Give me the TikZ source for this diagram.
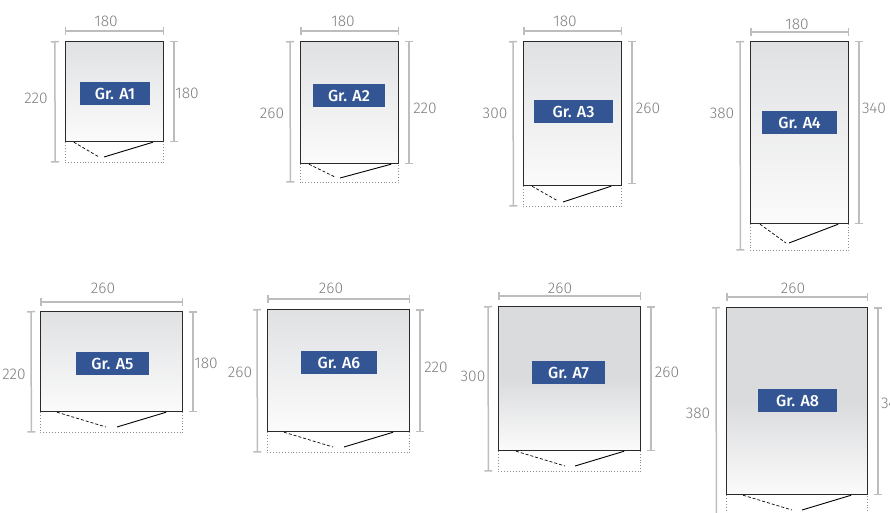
\documentclass[tikz,border=0pt]{standalone}
\usepackage{tikz}
\usetikzlibrary{arrows.meta, positioning}
\usepackage{xcolor}
\usepackage{fontspec}
\setmainfont{Fira Sans}[UprightFont=* Light, BoldFont=* Medium]

\definecolor{roomtop}{HTML}{E0E1E3}
\definecolor{deeptop}{HTML}{DADBDD}
\definecolor{roombot}{HTML}{FBFBFB}
\definecolor{tagblue}{HTML}{345594}
\definecolor{dimgray}{HTML}{BDBDBD}
\definecolor{textgray}{HTML}{7E7E7E}
\definecolor{edgegray}{HTML}{2A2A2A}

\begin{document}
\begin{tikzpicture}[
x=1pt, y=-1pt,
room/.style={draw=edgegray,
line width=1.2pt,
rectangle,
anchor=north west,
inner sep=0pt,
top color=roomtop,
bottom color=roombot},
deeproom/.style={room,
top color=deeptop,
bottom color=roombot,
middle color=deeptop},
apron/.style={rectangle,
inner sep=0pt},
apronline/.style={dotted, line width=0.9pt, draw=black!45},
tag/.style={rectangle,
fill=tagblue,
text=white,
font=\fontsize{16}{18}\bfseries\selectfont,
inner sep=0pt,
minimum height=23pt},
dimline/.style={{Bar[width=8pt]}-{Bar[width=8pt]}, line width=1.5pt, draw=dimgray},
dimtext/.style={text=textgray,
font=\fontsize{15.5}{18}\selectfont,
yshift=-0.8pt,
inner sep=0pt},
doordash/.style={densely dashed, line width=0.7pt, draw=black},
doorline/.style={line width=0.9pt, draw=black}
]

\useasboundingbox (0,0) rectangle (890,513);

\node[room, minimum width=98pt, minimum height=100pt] (roomA1) at (64.8,41) {};
\node[apron, minimum width=98pt, minimum height=20pt, below=0pt of roomA1] (apronA1) {};
\node[tag, minimum width=70pt] (tagA1) at (115,93.5) {Gr. A1};
\node[dimtext] (widthA1) at (106,21) {180};
\node[dimtext] (depthA1) at (36,98) {220};
\node[dimtext] (innerA1) at (187,93) {180};
\coordinate (doorA1l) at (99,157);
\coordinate (doorA1r) at (104,157);
\draw[apronline] (apronA1.north west) |- (apronA1.south east) -- (apronA1.north east);
\draw[dimline] ([yshift=10pt]roomA1.north west) -- ([yshift=10pt]roomA1.north east);
\draw[dimline] ([xshift=-10pt]roomA1.north west) -- ([xshift=-10pt]apronA1.south west);
\draw[dimline] ([xshift=10pt]roomA1.north east) -- ([xshift=10pt]roomA1.south east);
\draw[doordash] ([xshift=9pt]roomA1.south west) -- (doorA1l);
\draw[doorline] ([xshift=-11pt]roomA1.south east) -- (doorA1r);

\node[room, minimum width=98pt, minimum height=122pt] (roomA2) at (300,41) {};
\node[apron, minimum width=98pt, minimum height=18pt, below=0pt of roomA2] (apronA2) {};
\node[tag, minimum width=72pt] (tagA2) at (349,95.5) {Gr. A2};
\node[dimtext] (widthA2) at (343,21) {180};
\node[dimtext] (depthA2) at (272,113) {260};
\node[dimtext] (innerA2) at (425,108) {220};
\coordinate (doorA2l) at (335,177);
\coordinate (doorA2r) at (340,178);
\draw[apronline] (apronA2.north west) |- (apronA2.south east) -- (apronA2.north east);
\draw[dimline] ([yshift=10pt]roomA2.north west) -- ([yshift=10pt]roomA2.north east);
\draw[dimline] ([xshift=-10pt]roomA2.north west) -- ([xshift=-10pt]apronA2.south west);
\draw[dimline] ([xshift=10pt]roomA2.north east) -- ([xshift=10pt]roomA2.south east);
\draw[doordash] ([xshift=9pt]roomA2.south west) -- (doorA2l);
\draw[doorline] ([xshift=-8pt]roomA2.south east) -- (doorA2r);

\node[room, minimum width=98pt, minimum height=144pt] (roomA3) at (523,41) {};
\node[apron, minimum width=98pt, minimum height=20pt, below=0pt of roomA3] (apronA3) {};
\node[tag, minimum width=79pt] (tagA3) at (573.5,111.5) {Gr. A3};
\node[dimtext] (widthA3) at (565,21) {180};
\node[dimtext] (depthA3) at (495,113) {300};
\node[dimtext] (innerA3) at (648,108) {260};
\coordinate (doorA3l) at (558,201);
\coordinate (doorA3r) at (563,202);
\draw[apronline] (apronA3.north west) |- (apronA3.south east) -- (apronA3.north east);
\draw[dimline] ([yshift=10pt]roomA3.north west) -- ([yshift=10pt]roomA3.north east);
\draw[dimline] ([xshift=-10pt]roomA3.north west) -- ([xshift=-10pt]apronA3.south west);
\draw[dimline] ([xshift=10pt]roomA3.north east) -- ([xshift=10pt,yshift=2pt]roomA3.south east);
\draw[doordash] ([xshift=9pt]roomA3.south west) -- (doorA3l);
\draw[doorline] ([xshift=-11pt]roomA3.south east) -- (doorA3r);

\node[room, minimum width=98pt, minimum height=182pt] (roomA4) at (750,41) {};
\node[apron, minimum width=98pt, minimum height=26pt, below=0pt of roomA4] (apronA4) {};
\node[tag, minimum width=75pt] (tagA4) at (799.5,122.5) {Gr. A4};
\node[dimtext] (widthA4) at (797,24) {180};
\node[dimtext] (depthA4) at (722,113) {380};
\node[dimtext] (innerA4) at (874,108) {340};
\coordinate (doorA4l) at (786,243);
\coordinate (doorA4r) at (789,243);
\draw[apronline] (apronA4.north west) |- (apronA4.south east) -- (apronA4.north east);
\draw[dimline] ([yshift=9pt]roomA4.north west) -- ([yshift=9pt]roomA4.north east);
\draw[dimline] ([xshift=-10pt]roomA4.north west) -- ([xshift=-10pt]apronA4.south west);
\draw[dimline] ([xshift=10pt]roomA4.north east) -- ([xshift=10pt]roomA4.south east);
\draw[doordash] ([xshift=10pt]roomA4.south west) -- (doorA4l);
\draw[doorline] ([xshift=-11pt]roomA4.south east) -- (doorA4r);

\node[room, minimum width=142pt, minimum height=100pt] (roomA5) at (40,311) {};
\node[apron, minimum width=142pt, minimum height=20pt, below=0pt of roomA5] (apronA5) {};
\node[tag, minimum width=73pt] (tagA5) at (112.5,363.5) {Gr. A5};
\node[dimtext] (widthA5) at (103,288) {260};
\node[dimtext] (depthA5) at (14,374) {220};
\node[dimtext] (innerA5) at (206,363) {180};
\coordinate (doorA5l) at (106,427);
\coordinate (doorA5r) at (117,427);
\draw[apronline] (apronA5.north west) |- (apronA5.south east) -- (apronA5.north east);
\draw[dimline] ([yshift=9pt]roomA5.north west) -- ([yshift=9pt]roomA5.north east);
\draw[dimline] ([xshift=-9pt]roomA5.north west) -- ([xshift=-9pt]apronA5.south west);
\draw[dimline] ([xshift=10pt]roomA5.north east) -- ([xshift=10pt]roomA5.south east);
\draw[doordash] ([xshift=17pt]roomA5.south west) -- (doorA5l);
\draw[doorline] ([xshift=-17pt]roomA5.south east) -- (doorA5r);

\node[room, minimum width=142pt, minimum height=122pt] (roomA6) at (267,309) {};
\node[apron, minimum width=142pt, minimum height=20pt, below=0pt of roomA6] (apronA6) {};
\node[tag, minimum width=76pt] (tagA6) at (339,362.5) {Gr. A6};
\node[dimtext] (widthA6) at (331,288) {260};
\node[dimtext] (depthA6) at (240,372) {260};
\node[dimtext] (innerA6) at (436,367) {220};
\coordinate (doorA6l) at (333,447);
\coordinate (doorA6r) at (344,447);
\draw[apronline] (apronA6.north west) |- (apronA6.south east) -- (apronA6.north east);
\draw[dimline] ([yshift=10pt]roomA6.north west) -- ([yshift=10pt]roomA6.north east);
\draw[dimline] ([xshift=-10pt]roomA6.north west) -- ([xshift=-10pt]apronA6.south west);
\draw[dimline] ([xshift=10pt]roomA6.north east) -- ([xshift=10pt]roomA6.south east);
\draw[doordash] ([xshift=17pt]roomA6.south west) -- (doorA6l);
\draw[doorline] ([xshift=-17pt]roomA6.south east) -- (doorA6r);

\node[deeproom, minimum width=142pt, minimum height=144pt] (roomA7) at (498,306) {};
\node[apron, minimum width=142pt, minimum height=20pt, below=0pt of roomA7] (apronA7) {};
\node[tag, minimum width=73pt] (tagA7) at (568.5,372.5) {Gr. A7};
\node[dimtext] (widthA7) at (560,288) {260};
\node[dimtext] (depthA7) at (473,376) {300};
\node[dimtext] (innerA7) at (667,372) {260};
\coordinate (doorA7l) at (565,466);
\coordinate (doorA7r) at (575,466);
\draw[apronline] (apronA7.north west) |- (apronA7.south east) -- (apronA7.north east);
\draw[dimline] ([yshift=10pt]roomA7.north west) -- ([yshift=10pt]roomA7.north east);
\draw[dimline] ([xshift=-10pt]roomA7.north west) -- ([xshift=-10pt]apronA7.south west);
\draw[dimline] ([xshift=10pt]roomA7.north east) -- ([xshift=10pt]roomA7.south east);
\draw[doordash] ([xshift=18pt]roomA7.south west) -- (doorA7l);
\draw[doorline] ([xshift=-17pt]roomA7.south east) -- (doorA7r);

\node[deeproom, minimum width=141pt, minimum height=187pt] (roomA8) at (726,307) {};
\node[apron, minimum width=141pt, minimum height=21pt, below=0pt of roomA8] (apronA8) {};
\node[tag, minimum width=79pt] (tagA8) at (797.5,400.5) {Gr. A8};
\node[dimtext] (widthA8) at (793,288) {260};
\node[dimtext] (depthA8) at (698,413) {380};
\node[dimtext] (innerA8) at (893,403) {340};
\coordinate (doorA8l) at (792,510);
\coordinate (doorA8r) at (802,510);
\draw[apronline] (apronA8.north west) |- (apronA8.south east) -- (apronA8.north east);
\draw[dimline] ([yshift=10pt]roomA8.north west) -- ([yshift=10pt]roomA8.north east);
\draw[dimline] ([xshift=-10pt]roomA8.north west) -- ([xshift=-10pt]apronA8.south west);
\draw[dimline] ([xshift=10pt]roomA8.north east) -- ([xshift=10pt]roomA8.south east);
\draw[doordash] ([xshift=17pt]roomA8.south west) -- (doorA8l);
\draw[doorline] ([xshift=-17pt]roomA8.south east) -- (doorA8r);

\end{tikzpicture}
\end{document}
